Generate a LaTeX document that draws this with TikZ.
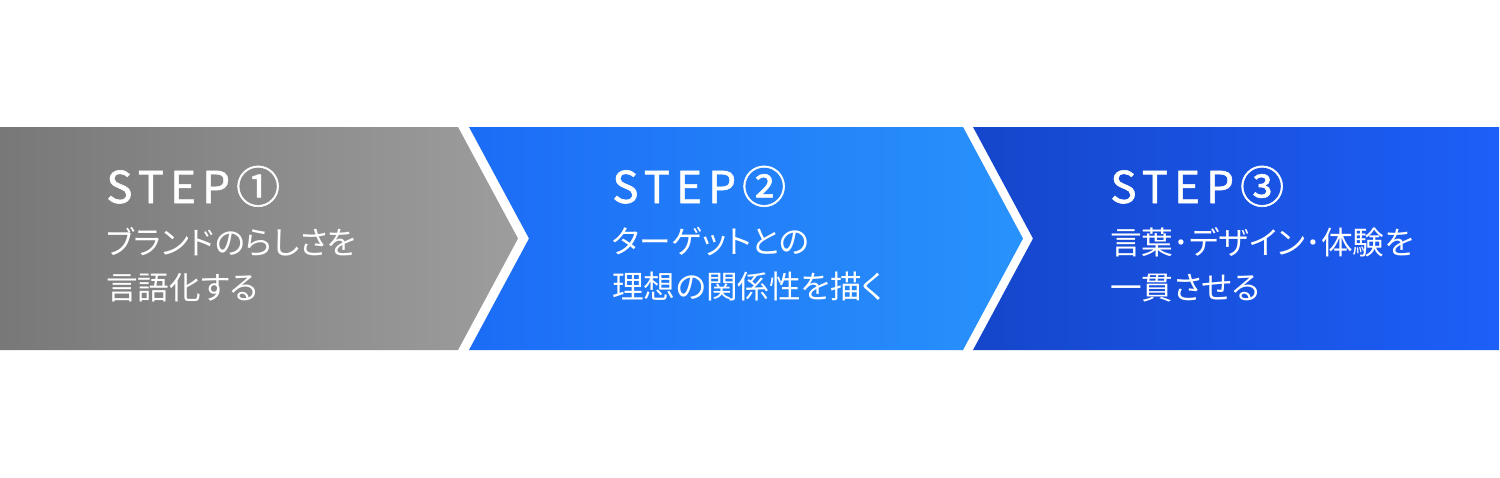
\documentclass[tikz,border=0pt]{standalone}
\usepackage{fontspec}
\setmainfont[RawFeature=+palt]{Noto Sans CJK JP}
\newfontfamily\stepfont[LetterSpace=14, FakeBold=1.3]{Noto Sans CJK JP}
\usepackage{tikz}

\definecolor{grayL}{HTML}{787878}
\definecolor{grayR}{HTML}{9C9D9C}
\definecolor{blueL}{HTML}{1C6CF6}
\definecolor{blueR}{HTML}{2892FB}
\definecolor{navyL}{HTML}{1546CB}
\definecolor{navyR}{HTML}{1D5FF8}

\begin{document}
\begin{tikzpicture}[x=0.02cm, y=-0.02cm,
		steptitle/.style={anchor=base west, inner sep=0, text=white, font=\stepfont\fontsize{25}{25}\selectfont},
		steptext/.style={anchor=north west, inner sep=0, text=white, align=left, font=\fontsize{18}{25.5}\selectfont}]
			\useasboundingbox[fill=white] (0, 0) rectangle (1500, 477);

			\shade[left color=grayL, right color=grayR]
			(0, 127) -- (458, 127) -- (518, 238.5) -- (458, 350) -- (0, 350) -- cycle;
			\shade[left color=blueL, right color=blueR]
			(469, 127) -- (963, 127) -- (1023, 238.5) -- (963, 350) -- (469, 350) -- (529, 238.5) -- cycle;
			\shade[left color=navyL, right color=navyR]
			(973, 127) -- (1499, 127) -- (1499, 350) -- (973, 350) -- (1033, 238.5) -- cycle;

			\node[steptitle] (step1) at (106, 203) {STEP①};
			\node[steptitle] (step2) at (612, 203) {STEP②};
			\node[steptitle] (step3) at (1110, 203) {STEP③};

			\node[steptext] (text1) at (106, 227) {ブランドのらしさを\\言語化する};
			\node[steptext] (text2) at (612, 227) {ターゲットとの\\理想の関係性を描く};
			\node[steptext] (text3) at (1110, 227) {言葉･デザイン･体験を\\一貫させる};

		\end{tikzpicture}
\end{document}
